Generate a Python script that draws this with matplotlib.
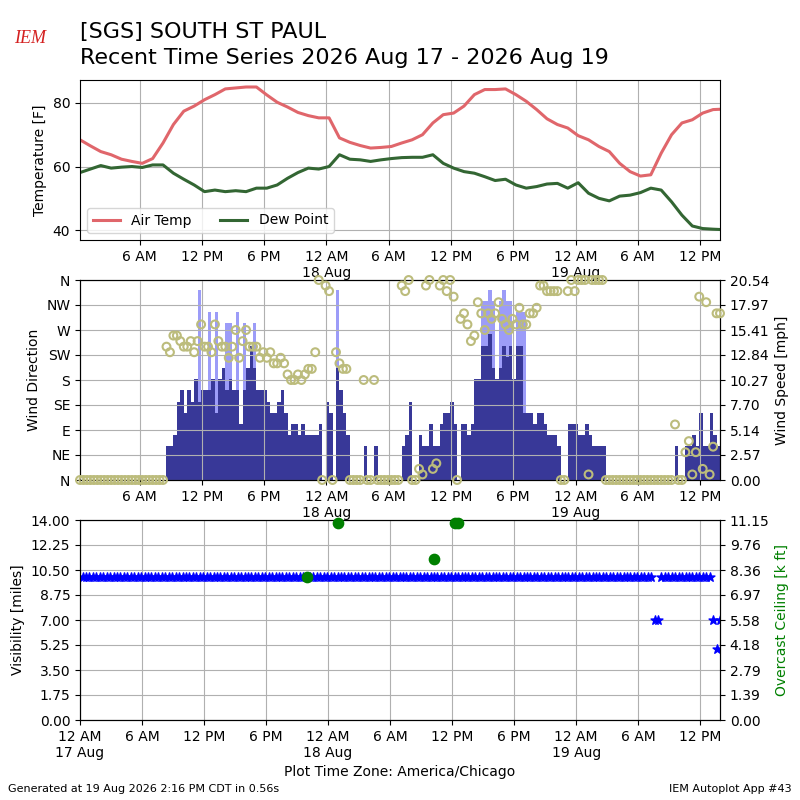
import numpy as np
import pandas as pd
import matplotlib
matplotlib.use("Agg")
import matplotlib.pyplot as plt
import matplotlib.dates as mdates
from matplotlib.ticker import FixedLocator, FormatStrFormatter

# Observations every 20 minutes, 00:15 17 Aug through 13:55 19 Aug
obs_start = "2026-08-17 00:15"
obs_count = 186

# Hourly temperature / dew point [F]
temp_f = [68.4, 66.5, 64.7, 63.7, 62.3, 61.6, 61.0, 62.5, 67.4, 73.2,
          77.4, 79.0, 81.0, 82.6, 84.4, 84.7, 85.0, 85.0, 82.5, 80.2,
          78.7, 77.0, 76.0, 75.3, 75.3, 69.0, 67.6, 66.6, 65.8, 66.0,
          66.3, 67.4, 68.4, 70.0, 73.7, 76.3, 76.8, 79.0, 82.6, 84.2,
          84.2, 84.4, 82.6, 80.5, 77.9, 75.0, 73.2, 72.1, 69.7, 68.4,
          66.3, 64.7, 61.0, 58.4, 57.0, 57.4, 64.2, 70.0, 73.7, 74.7,
          76.8, 77.9, 78.0]
dwpt_f = [58.1, 59.2, 60.3, 59.5, 59.8, 60.0, 59.7, 60.5, 60.5, 57.9,
          56.0, 54.2, 52.1, 52.6, 52.1, 52.4, 52.1, 53.2, 53.2, 54.2,
          56.3, 58.1, 59.5, 59.2, 60.0, 63.7, 62.3, 62.1, 61.6, 62.1,
          62.5, 62.8, 62.9, 62.9, 63.7, 61.0, 59.5, 58.4, 57.9, 56.8,
          55.6, 56.0, 54.2, 53.2, 53.7, 54.5, 54.7, 53.2, 54.9, 51.6,
          50.0, 49.2, 50.7, 51.0, 51.8, 53.2, 52.6, 48.9, 44.7, 41.3,
          40.5, 40.3, 40.2]

# Wind speed [kt] and direction [deg] for each 20 minute observation
sknt = [0, 0, 0, 0, 0, 0, 0, 0, 0, 0,
        0, 0, 0, 0, 0, 0, 0, 0, 0, 0,
        0, 0, 0, 0, 0, 3, 3, 4, 7, 8,
        6, 8, 7, 9, 7, 8, 8, 8, 9, 6,
        9, 10, 8, 9, 8, 8, 5, 8, 10, 12,
        10, 8, 8, 8, 7, 6, 6, 7, 8, 6,
        4, 5, 5, 4, 5, 4, 4, 4, 4, 5,
        0, 7, 6, 0, 10, 8, 6, 4, 0, 0,
        0, 0, 3, 0, 0, 3, 0, 0, 0, 0,
        0, 0, 0, 3, 4, 7, 0, 0, 4, 3,
        3, 5, 3, 3, 5, 6, 6, 7, 5, 0,
        5, 5, 4, 5, 9, 9, 12, 12, 13, 10,
        9, 10, 12, 11, 12, 9, 12, 12, 6, 6,
        6, 5, 6, 6, 5, 4, 4, 4, 3, 0,
        0, 5, 5, 5, 4, 4, 5, 4, 3, 3,
        3, 3, 0, 0, 0, 0, 0, 0, 0, 0,
        0, 0, 0, 0, 0, 0, 0, 0, 0, 0,
        0, 0, 3, 0, 0, 3, 3, 4, 3, 6,
        3, 3, 6, 4, 3, 3]
drct = [0, 0, 0, 0, 0, 0, 0, 0, 0, 0,
        0, 0, 0, 0, 0, 0, 0, 0, 0, 0,
        0, 0, 0, 0, 0, 240, 230, 260, 260, 250,
        240, 240, 250, 230, 250, 280, 240, 240, 230, 280,
        250, 240, 240, 220, 240, 270, 220, 250, 270, 240,
        240, 240, 220, 230, 220, 230, 210, 210, 220, 210,
        190, 180, 180, 190, 180, 190, 200, 200, 230, 360,
        0, 350, 340, 0, 230, 210, 200, 200, 0, 0,
        0, 0, 180, 0, 0, 180, 0, 0, 0, 0,
        0, 0, 0, 350, 340, 360, 0, 0, 20, 10,
        350, 360, 20, 30, 350, 360, 340, 360, 330, 0,
        290, 300, 280, 250, 260, 320, 300, 270, 300, 290,
        300, 320, 290, 280, 270, 290, 280, 310, 280, 280,
        300, 300, 310, 350, 350, 340, 340, 340, 340, 0,
        0, 340, 360, 340, 360, 360, 360, 10, 360, 360,
        360, 360, 0, 0, 0, 0, 0, 0, 0, 0,
        0, 0, 0, 0, 0, 0, 0, 0, 0, 0,
        0, 0, 100, 0, 0, 50, 70, 10, 50, 330,
        20, 320, 10, 60, 300, 300]
gust_obs = [34, 37, 39, 42, 43, 45, 47, 50, 74, 116, 117, 118, 119, 121,
            122, 123, 124, 126, 127, 128]
gust_kt = [17, 15, 15, 14, 14, 15, 14, 14, 17, 16, 16, 17, 16, 16,
           17, 16, 16, 15, 15, 15]

# Visibility [miles] per observation, overcast ceiling [k ft]
vis_mi = [10.0] * 166 + [7.0, 7.0] + [10.0] * 15 + [7.0, 5.0, 7.0]
ceil_obs = [65, 74, 102, 108, 109]
ceil_kft = [8.0, 11.0, 9.0, 11.0, 11.0]

dir_labels = ["N", "NE", "E", "SE", "S", "SW", "W", "NW", "N"]

# ---------------------------------------------------------------
obs_times = pd.date_range(obs_start, periods=obs_count, freq="20min")
t_start = obs_times[0]
t_end = obs_times[-1]
temp_times = pd.date_range(obs_start, periods=len(temp_f) - 1, freq="h").append(
    pd.DatetimeIndex([t_end]))
mph = np.array(sknt) * 1.15078
gust_mph = np.array(gust_kt) * 1.15078
bar_w = 20.0 / 1440.0


def time_fmt(x, pos=None):
    dt = mdates.num2date(x)
    hr = dt.hour % 12 or 12
    label = f"{hr} {'AM' if dt.hour < 12 else 'PM'}"
    if dt.hour == 0:
        label += f"\n{dt.day} {dt.strftime('%b')}"
    return label


def time_axis(ax):
    ax.xaxis.set_major_locator(mdates.HourLocator(byhour=[0, 6, 12, 18]))
    ax.xaxis.set_major_formatter(plt.FuncFormatter(time_fmt))


fig = plt.figure(figsize=(8, 8), dpi=100)

fig.text(0.1, 0.952, "[SGS] SOUTH ST PAUL", fontsize=16, va="baseline")
fig.text(0.1, 0.9196, "Recent Time Series 2026 Aug 17 - 2026 Aug 19",
         fontsize=16, va="baseline")
fig.text(0.017, 0.946, "IEM", fontsize=13, color="#d42020",
         family="Liberation Serif", style="italic", va="baseline")
fig.text(0.01, 0.01, "Generated at 19 Aug 2026 2:16 PM CDT in 0.56s", fontsize=8)
fig.text(0.99, 0.01, "IEM Autoplot App #43", fontsize=8, ha="right")

# Temperature panel
ax1 = fig.add_axes([0.1, 0.7, 0.8, 0.2])
ax1.plot(temp_times, temp_f, color="#e0666b", lw=2.2, label="Air Temp")
ax1.plot(temp_times, dwpt_f, color="#336633", lw=2.2, label="Dew Point")
ax1.set_ylim(36.9, 87.2)
ax1.set_yticks([40, 60, 80])
ax1.set_ylabel("Temperature [F]")
ax1.set_xlim(t_start, t_end)
time_axis(ax1)
ax1.grid(True)
ax1.legend(loc="lower left", ncol=2)

# Wind panel
axw = fig.add_axes([0.1, 0.4, 0.8, 0.25])
axs = axw.twinx()
axs.bar(obs_times[gust_obs], gust_mph, width=bar_w, align="edge",
        color="#9c9cf8", zorder=1)
axs.bar(obs_times, mph, width=bar_w, align="edge", color="#383898", zorder=2)
smax = gust_mph.max() * 1.05
axs.set_ylim(0, smax)
axs.yaxis.set_major_locator(FixedLocator(np.linspace(0, smax, 9)))
axs.yaxis.set_major_formatter(FormatStrFormatter("%.2f"))
axs.set_ylabel("Wind Speed [mph]")
axw.set_zorder(axs.get_zorder() + 1)
axw.patch.set_visible(False)
axw.scatter(obs_times, drct, s=32, facecolors="none", edgecolors="#bcbc7c",
            linewidths=1.5, zorder=5, clip_on=False)
axw.set_ylim(0, 360)
axw.set_yticks(np.arange(0, 361, 45))
axw.set_yticklabels(dir_labels)
axw.set_ylabel("Wind Direction")
axw.set_xlim(t_start, t_end)
time_axis(axw)
axw.grid(True)

# Visibility / ceiling panel
axv = fig.add_axes([0.1, 0.1, 0.8, 0.25])
axv.scatter(obs_times, vis_mi, marker="*", s=45, color="blue", zorder=3)
axv.set_ylim(0, 14)
axv.yaxis.set_major_locator(FixedLocator(np.linspace(0, 14, 9)))
axv.yaxis.set_major_formatter(FormatStrFormatter("%.2f"))
axv.set_ylabel("Visibility [miles]")
axv.set_xlim(pd.Timestamp("2026-08-17 00:00"), t_end)
time_axis(axv)
axv.grid(True)
axv.set_xlabel("Plot Time Zone: America/Chicago")
axc = axv.twinx()
axc.scatter(obs_times[ceil_obs], ceil_kft, s=55, color="green", zorder=4,
            clip_on=False)
axc.set_ylim(0, 11.15)
axc.yaxis.set_major_locator(FixedLocator(np.linspace(0, 11.15, 9)))
axc.yaxis.set_major_formatter(FormatStrFormatter("%.2f"))
axc.set_ylabel("Overcast Ceiling [k ft]", color="green")

fig.savefig("out.png", dpi=100)
